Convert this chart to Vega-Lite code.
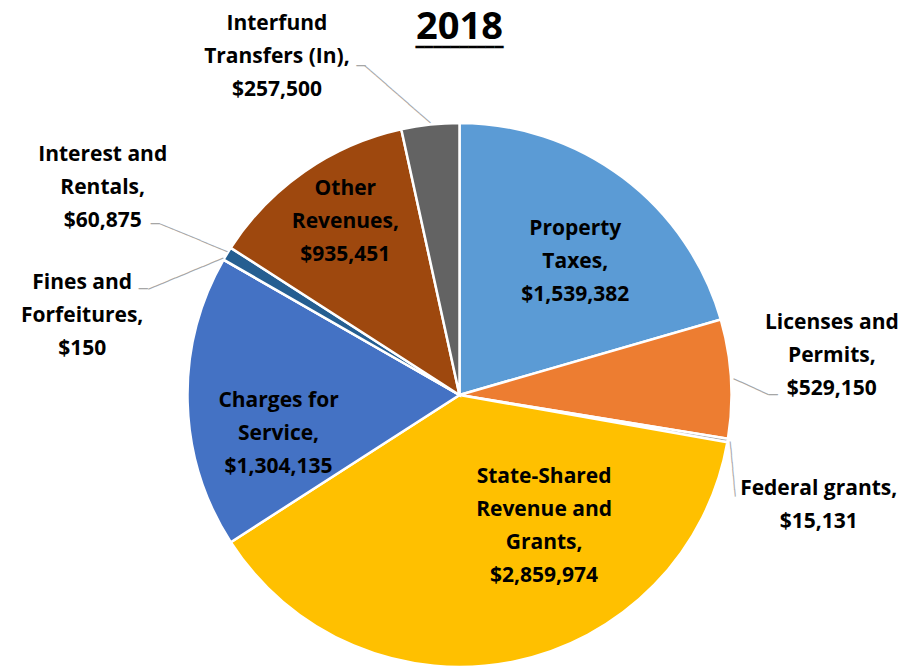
{
  "$schema": "https://vega.github.io/schema/vega-lite/v6.json",
  "width": 919,
  "height": 546,
  "autosize": {"type": "none"},
  "padding": {"left": 0, "top": 122, "right": 2, "bottom": 0},
  "background": "white",
  "view": {"stroke": null},
  "config": {"text": {"font": "Open Sans", "fontSize": 21, "fontWeight": "bold", "lineBreak": "\n", "lineHeight": 33, "baseline": "middle", "align": "center", "color": "black"}},
  "data": {"values": [
    {"idx": 1, "cat": "Property Taxes", "value": 1539382, "label": "Property\nTaxes,\n$1,539,382"},
    {"idx": 2, "cat": "Licenses and Permits", "value": 529150, "label": "Licenses and\nPermits,\n$529,150"},
    {"idx": 3, "cat": "Federal grants", "value": 15131, "label": "Federal grants,\n$15,131"},
    {"idx": 4, "cat": "State-Shared Revenue and Grants", "value": 2859974, "label": "State-Shared\nRevenue and\nGrants,\n$2,859,974"},
    {"idx": 5, "cat": "Charges for Service", "value": 1304135, "label": "Charges for\nService,\n$1,304,135"},
    {"idx": 6, "cat": "Fines and Forfeitures", "value": 150, "label": "Fines and\nForfeitures,\n$150"},
    {"idx": 7, "cat": "Interest and Rentals", "value": 60875, "label": "Interest and\nRentals,\n$60,875"},
    {"idx": 8, "cat": "Other Revenues", "value": 935451, "label": "Other\nRevenues,\n$935,451"},
    {"idx": 9, "cat": "Interfund Transfers (In)", "value": 257500, "label": "Interfund\nTransfers (In),\n$257,500"}
  ]},
  "encoding": {
    "theta": {"field": "value", "type": "quantitative", "stack": true},
    "order": {"field": "idx", "type": "quantitative"}
  },
  "layer": [
    {
      "mark": {"type": "arc", "outerRadius": 272, "stroke": "white", "strokeWidth": 2.5},
      "encoding": {
        "color": {"field": "cat", "type": "nominal", "legend": null,
          "scale": {"domain": ["Property Taxes", "Licenses and Permits", "Federal grants", "State-Shared Revenue and Grants", "Charges for Service", "Fines and Forfeitures", "Interest and Rentals", "Other Revenues", "Interfund Transfers (In)"],
                    "range": ["#5B9BD5", "#ED7D31", "#A5A5A5", "#FFC000", "#4472C4", "#70AD47", "#255E91", "#9E480E", "#636363"]}}
      }
    },
    {"mark": {"type": "text", "radius": 356.5, "fontSize": 38, "baseline": "alphabetic"},
     "encoding": {"theta": {"datum": 0, "type": "quantitative", "stack": null},
                  "text": {"condition": {"test": "datum.idx === 1", "value": "2018"}, "value": ""}}},
    {"mark": {"type": "text", "radius": 347, "font": "DejaVu Sans Mono", "fontSize": 14.6, "fontWeight": "normal"},
     "encoding": {"theta": {"datum": 0, "type": "quantitative", "stack": null},
                  "text": {"condition": {"test": "datum.idx === 1", "value": "━━━━━━━━━━"}, "value": ""}}},
    {"mark": {"type": "text", "radius": 272, "angle": 41.2, "dx": -44.4, "dy": -1.2, "font": "DejaVu Sans Mono", "fontSize": 12, "fontWeight": "normal", "color": "#A6A6A6"},
     "encoding": {"text": {"condition": {"test": "datum.cat === 'Interfund Transfers (In)'", "value": "────────────"}, "value": ""}}},
    {"mark": {"type": "text", "radius": 272, "dx": -69.1, "dy": -58.9, "font": "DejaVu Sans Mono", "fontSize": 15, "fontWeight": "normal", "color": "#A6A6A6"},
     "encoding": {"text": {"condition": {"test": "datum.cat === 'Interfund Transfers (In)'", "value": "─"}, "value": ""}}},
    {"mark": {"type": "text", "radius": 272, "angle": 22.4, "dx": -36.9, "dy": -1.9, "font": "DejaVu Sans Mono", "fontSize": 12.1, "fontWeight": "normal", "color": "#A6A6A6"},
     "encoding": {"text": {"condition": {"test": "datum.cat === 'Interest and Rentals'", "value": "──────────"}, "value": ""}}},
    {"mark": {"type": "text", "radius": 272, "dx": -71.7, "dy": -29.7, "font": "DejaVu Sans Mono", "fontSize": 15, "fontWeight": "normal", "color": "#A6A6A6"},
     "encoding": {"text": {"condition": {"test": "datum.cat === 'Interest and Rentals'", "value": "─"}, "value": ""}}},
    {"mark": {"type": "text", "radius": 272, "angle": -22.5, "dx": -40.2, "dy": -1.4, "font": "DejaVu Sans Mono", "fontSize": 12.26, "fontWeight": "normal", "color": "#A6A6A6"},
     "encoding": {"text": {"condition": {"test": "datum.cat === 'Fines and Forfeitures'", "value": "───────────"}, "value": ""}}},
    {"mark": {"type": "text", "radius": 272, "dx": -80.2, "dy": 29.6, "font": "DejaVu Sans Mono", "fontSize": 15, "fontWeight": "normal", "color": "#A6A6A6"},
     "encoding": {"text": {"condition": {"test": "datum.cat === 'Fines and Forfeitures'", "value": "─"}, "value": ""}}},
    {"mark": {"type": "text", "radius": 272, "angle": 24.6, "dx": 21.5, "dy": -0.7, "font": "DejaVu Sans Mono", "fontSize": 12.8, "fontWeight": "normal", "color": "#A6A6A6"},
     "encoding": {"text": {"condition": {"test": "datum.cat === 'Licenses and Permits'", "value": "─────"}, "value": ""}}},
    {"mark": {"type": "text", "radius": 272, "dx": 42.3, "dy": 16.3, "font": "DejaVu Sans Mono", "fontSize": 15, "fontWeight": "normal", "color": "#A6A6A6"},
     "encoding": {"text": {"condition": {"test": "datum.cat === 'Licenses and Permits'", "value": "─"}, "value": ""}}},
    {"mark": {"type": "text", "radius": 272, "angle": 84.8, "dx": 28.95, "dy": -1.5, "font": "DejaVu Sans Mono", "fontSize": 11.46, "fontWeight": "normal", "color": "#A6A6A6"},
     "encoding": {"text": {"condition": {"test": "datum.cat === 'Federal grants'", "value": "────────"}, "value": ""}}},
    {
      "mark": {"type": "text", "radius": 176, "dx": 10, "dy": -25},
      "encoding": {"text": {"condition": {"test": "datum.cat === 'Property Taxes'", "field": "label", "type": "nominal"}, "value": ""}}
    },
    {
      "mark": {"type": "text", "radius": 372, "dx": 1, "dy": -50},
      "encoding": {"text": {"condition": {"test": "datum.cat === 'Licenses and Permits'", "field": "label", "type": "nominal"}, "value": ""}}
    },
    {
      "mark": {"type": "text", "radius": 340, "dx": 24, "dy": 37.5},
      "encoding": {"text": {"condition": {"test": "datum.cat === 'Federal grants'", "field": "label", "type": "nominal"}, "value": ""}}
    },
    {
      "mark": {"type": "text", "radius": 155, "dx": 54, "dy": -69.5},
      "encoding": {"text": {"condition": {"test": "datum.cat === 'State-Shared Revenue and Grants'", "field": "label", "type": "nominal"}, "value": ""}}
    },
    {
      "mark": {"type": "text", "radius": 180, "dx": -1, "dy": 1},
      "encoding": {"text": {"condition": {"test": "datum.cat === 'Charges for Service'", "field": "label", "type": "nominal"}, "value": ""}}
    },
    {
      "mark": {"type": "text", "radius": 330, "dx": -91, "dy": 52},
      "encoding": {"text": {"condition": {"test": "datum.cat === 'Fines and Forfeitures'", "field": "label", "type": "nominal"}, "value": ""}}
    },
    {
      "mark": {"type": "text", "radius": 400, "dx": -15, "dy": -32},
      "encoding": {"text": {"condition": {"test": "datum.cat === 'Interest and Rentals'", "field": "label", "type": "nominal"}, "value": ""}}
    },
    {
      "mark": {"type": "text", "radius": 200, "dx": 0, "dy": -42},
      "encoding": {"text": {"condition": {"test": "datum.cat === 'Other Revenues'", "field": "label", "type": "nominal"}, "value": ""}}
    },
    {
      "mark": {"type": "text", "radius": 340, "dx": -146, "dy": -33},
      "encoding": {"text": {"condition": {"test": "datum.cat === 'Interfund Transfers (In)'", "field": "label", "type": "nominal"}, "value": ""}}
    }
  ]
}
